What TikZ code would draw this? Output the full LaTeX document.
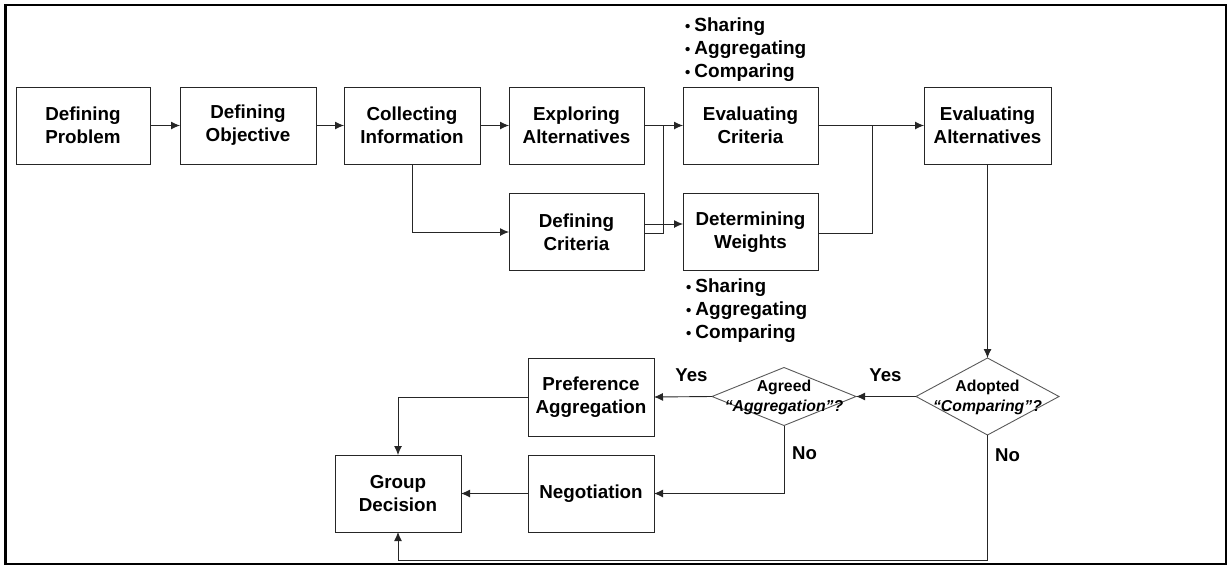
\documentclass[tikz,border=0pt]{standalone}
\usepackage{fontspec}
\setmainfont{Liberation Sans}
\usetikzlibrary{arrows.meta,shapes.geometric}
\newcommand{\bulitem}{{\fontsize{15}{23}\selectfont\textbullet}\hspace{4pt}}
\begin{document}
\begin{tikzpicture}[x=1pt,y=-1pt,
  box/.style={draw=black!85, line width=0.9pt, rectangle, inner sep=0pt, outer sep=0pt,
    minimum height=77pt, align=center, font=\fontsize{18.8}{23}\selectfont\bfseries},
  dia/.style={draw=black!65, line width=0.9pt, diamond, inner sep=0pt, outer sep=0pt},
  diatext/.style={align=center, inner sep=0pt, font=\fontsize{15.8}{20}\selectfont\bfseries},
  lbl/.style={inner sep=0pt, font=\fontsize{18.6}{23}\selectfont\bfseries},
  bul/.style={anchor=west, align=left, inner sep=0pt, font=\fontsize{19}{23}\selectfont\bfseries},
  conn/.style={draw=black!85, line width=0.9pt},
  arr/.style={conn, -{Latex[length=9pt,width=8pt]}}
]
\useasboundingbox (0,0) rectangle (1229,565);
\draw[line width=2.2pt] (5.5,5) rectangle (1226,564.2);

\node[box, minimum width=134pt] (prob) at (83,125.5) {Defining\\Problem};
\node[box, minimum width=136pt] (obj) at (248,125.5) {Defining\\Objective};
\node[box, minimum width=136pt] (coll) at (412,125.5) {Collecting\\Information};
\node[box, minimum width=135pt] (expl) at (576.5,125.5) {Exploring\\Alternatives};
\node[box, minimum width=135pt] (evalc) at (750.5,125.5) {Evaluating\\Criteria};
\node[box, minimum width=127pt] (evala) at (987.5,125.5) {Evaluating\\Alternatives};
\node[box, minimum width=135pt] (defc) at (576.5,232) {Defining\\Criteria};
\node[box, minimum width=135pt] (detw) at (750.5,232) {Determining\\Weights};

\node[bul] (bt) at (685,50) {\bulitem Sharing\\\bulitem Aggregating\\\bulitem Comparing};
\node[bul] (bb) at (686,311) {\bulitem Sharing\\\bulitem Aggregating\\\bulitem Comparing};

\node[dia, minimum width=143pt, minimum height=77pt] (adop) at (987.5,396.5) {};
\node[diatext] (adopt) at (987.5,397) {Adopted\\\textit{“Comparing”?}};
\node[dia, minimum width=144pt, minimum height=58pt] (agr) at (784,396.5) {};
\node[diatext] (agrt) at (784,397) {Agreed\\\textit{“Aggregation”?}};

\node[box, minimum width=126pt, minimum height=78pt] (pref) at (591,397) {Preference\\Aggregation};
\node[box, minimum width=126pt] (neg) at (591,493.5) {Negotiation};
\node[box, minimum width=126pt] (grp) at (398,493.5) {Group\\Decision};

\node[lbl] (y1) at (691.5,375) {Yes};
\node[lbl] (y2) at (885.5,375) {Yes};
\node[lbl] (n1) at (804.5,453) {No};
\node[lbl] (n2) at (1007.5,455) {No};

\coordinate (j1) at (663,126);
\coordinate (j2) at (872,126);
\coordinate (bot) at (987.5,560.5);

\draw[arr] (prob) -- (obj);
\draw[arr] (obj) -- (coll);
\draw[arr] (coll) -- (expl);
\draw[arr] (expl) -- (evalc);
\draw[arr] (coll.south) |- (defc.west);
\draw[conn] ([yshift=-1pt]defc.east) -| (j1);
\draw[arr] ([yshift=8pt]defc.east) -- ([yshift=8pt]detw.west);
\draw[arr] (evalc) -- (evala);
\draw[conn] ([yshift=-1pt]detw.east) -| (j2);
\draw[arr] (evala.south) -- (adop.north);
\draw[arr] (adop.west) -- (agr.east);
\draw[arr] (agr.west) -- (pref.east);
\draw[arr] (agr.south) |- (neg.east);
\draw[arr] (pref.west) -| (grp.north);
\draw[arr] (neg.west) -- (grp.east);
\draw[arr] (adop.south) -- (bot) -| (grp.south);
\end{tikzpicture}
\end{document}
